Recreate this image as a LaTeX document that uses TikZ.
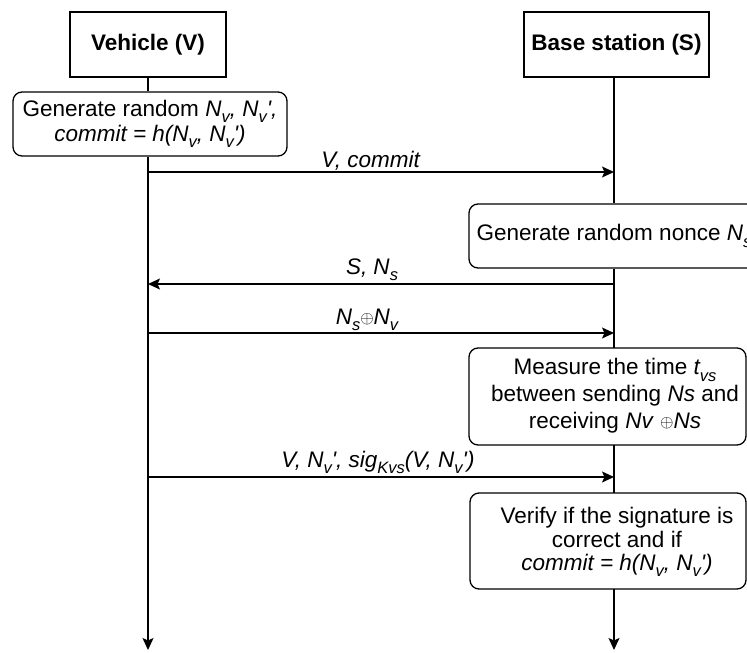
\documentclass[tikz,border=0pt]{standalone}
\usepackage{fontspec}
\setmainfont{Liberation Sans}[Ligatures=TeXOff]
\usetikzlibrary{arrows.meta}
% lowered, smaller subscript in the current font shape
\newcommand\sbs[1]{\raisebox{-0.28em}{\fontsize{16.5}{16.5}\selectfont #1}}
\newcommand\xor{\raisebox{1pt}{\fontsize{16}{16}\selectfont$\oplus$}}
\tikzset{
  diag/.style={x=1pt, y=-1pt, line width=1.3pt},
  txt/.style={font=\fontsize{22.5}{26}\selectfont},
  actor/.style={draw, txt, font=\fontsize{22.5}{26}\selectfont\bfseries, inner sep=0pt},
  act/.style={draw, rounded corners=9pt, inner sep=0pt, align=center},
  msg/.style={-{Stealth[length=12pt,width=11pt,inset=2.5pt]}},
  lbl/.style={txt, anchor=base, inner sep=0pt}
}
\begin{document}
\begin{tikzpicture}[diag]
\useasboundingbox (0,0) rectangle (747,653);
\clip (0,0) rectangle (747,653);

% participants
\node[actor, minimum width=156pt, minimum height=65pt] (vbox) at (148,44.5) {Vehicle (V)};
\node[actor, minimum width=185pt, minimum height=65pt] (sbox) at (616.5,44.5) {Base station (S)};

% activity boxes
\node[act, minimum width=274pt, minimum height=64pt,
      font=\fontsize{22.5}{25}\selectfont] (gv) at (150,124)
  {Generate random \textit{N\sbs{v}, N\sbs{v}',}\\
   \textit{commit = h(N\sbs{v}, N\sbs{v}')}};
\node[act, minimum width=290pt, minimum height=64pt, txt] (gs) at (614,236)
  {Generate random nonce \textit{N\sbs{s}}};
\draw[rounded corners=9pt] (469,348) rectangle (746,445);
\node[txt, align=center, inner sep=0pt, font=\fontsize{22.5}{27}\selectfont] (ms) at (615,396)
  {Measure the time \textit{t\sbs{vs}}\\
   between sending \textit{Ns} and\\
   receiving \textit{Nv} \xor\textit{Ns}};
\draw[rounded corners=9pt] (470,493) rectangle (746,589);
\node[txt, align=center, inner sep=0pt, font=\fontsize{22.5}{23.5}\selectfont] (vs) at (617,542)
  {Verify if the signature is\\
   correct and if\\
   \textit{commit = h(N\sbs{v}, N\sbs{v}')}};

% lifeline points
\coordinate (v1) at (148,172);
\coordinate (s1) at (614,172);
\coordinate (v2) at (148,284);
\coordinate (s2) at (614,284);
\coordinate (v3) at (148,333);
\coordinate (s3) at (614,333);
\coordinate (v4) at (148,477);
\coordinate (s4) at (614,477);
\coordinate (vend) at (148,650);
\coordinate (send) at (614,650);
\coordinate (mtop) at (614,348);
\coordinate (mbot) at (614,445);
\coordinate (vtop) at (614,493);
\coordinate (vbot) at (614,589);

% lifelines
\draw (vbox.south) -- (vbox.south |- gv.north);
\draw[msg] (vbox.south |- gv.south) -- (vend);
\draw (s1 |- sbox.south) -- (s1 |- gs.north);
\draw (s1 |- gs.south) -- (mtop);
\draw (mbot) -- (vtop);
\draw[msg] (vbot) -- (send);

% messages
\draw[msg] (v1) -- (s1) node[lbl, midway, xshift=-10pt, yshift=5pt] {\textit{V, commit}};
\draw[msg] (s2) -- (v2) node[lbl, midway, xshift=-9pt, yshift=10pt] {\textit{S, N\sbs{s}}};
\draw[msg] (v3) -- (s3) node[lbl, midway, xshift=-14pt, yshift=9pt] {\textit{N\sbs{s}}\xor\textit{N\sbs{v}}};
\draw[msg] (v4) -- (s4) node[lbl, midway, xshift=-3pt, yshift=10pt] {\textit{V, N\sbs{v}', sig\sbs{Kvs}(V, N\sbs{v}')}};
\end{tikzpicture}
\end{document}
